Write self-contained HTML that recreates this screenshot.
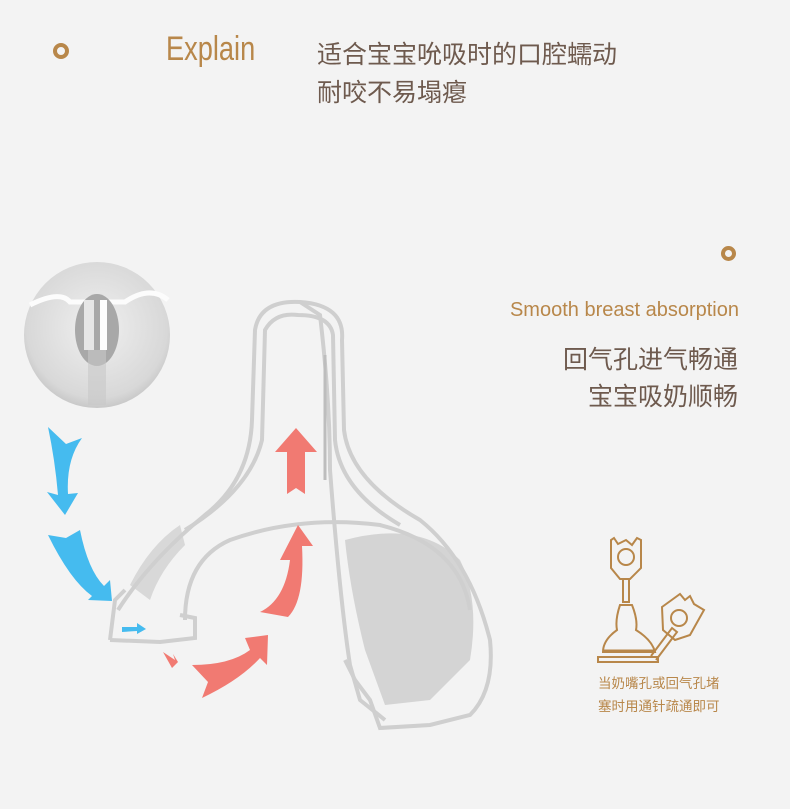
<!DOCTYPE html>
<html><head><meta charset="utf-8"><style>
body{margin:0;width:790px;height:809px;background:#f3f3f3;position:relative;overflow:hidden;font-family:"Liberation Sans","Noto Sans CJK SC",sans-serif}
.t{position:absolute;color:#6e5a4e;white-space:nowrap}
</style></head><body>
<div style="position:absolute;left:53px;top:43px;width:8px;height:8px;border:4px solid #b8874a;border-radius:50%"></div>
<div class="t" style="left:166px;top:30px;font-size:34px;color:#b8874a;font-family:'Liberation Sans Narrow','Liberation Sans',sans-serif;transform:scaleX(.8);transform-origin:left">Explain</div>
<div class="t" style="left:317px;top:36px;font-size:25px;line-height:38px">适合宝宝吮吸时的口腔蠕动<br>耐咬不易塌瘪</div>
<div style="position:absolute;left:721px;top:246px;width:7px;height:7px;border:4px solid #b8874a;border-radius:50%"></div>
<div class="t" style="right:51px;top:299px;font-size:20px;color:#b8874a;font-family:'Liberation Sans Narrow','Liberation Sans',sans-serif">Smooth breast absorption</div>
<div class="t" style="right:52px;top:342px;font-size:25px;line-height:37px;text-align:right">回气孔进气畅通<br>宝宝吸奶顺畅</div>
<div class="t" style="left:598px;top:672px;font-size:13.5px;line-height:23px;color:#b8874a">当奶嘴孔或回气孔堵<br>塞时用通针疏通即可</div>
<svg width="790" height="809" style="position:absolute;left:0;top:0">
<defs><radialGradient id="g" cx=".5" cy=".45" r=".6"><stop offset="0" stop-color="#f0f0f0"/><stop offset=".8" stop-color="#d8d8d8"/><stop offset="1" stop-color="#bdbdbd"/></radialGradient></defs>
<circle cx="97" cy="335" r="73" fill="url(#g)"/>
<path d="M30 305 Q60 290 70 302 L125 302 Q150 285 168 300" stroke="#fcfcfc" stroke-width="5" fill="none"/>
<ellipse cx="97" cy="330" rx="22" ry="36" fill="#a8a8a8"/>
<rect x="84" y="300" width="10" height="50" fill="#e6e6e6"/>
<rect x="100" y="300" width="7" height="50" fill="#fdfdfd"/>
<rect x="88" y="350" width="18" height="55" fill="#c8c8c8" opacity=".6"/>
<path d="M345 540 Q420 520 460 560 Q480 600 470 660 L430 700 L385 705 L365 650 Q350 590 345 540Z" fill="#b0b0b0" opacity=".45"/>
<path d="M130 585 Q150 545 180 525 L185 545 Q160 570 150 600Z" fill="#b0b0b0" opacity=".4"/>
<g fill="none" stroke="#cfcfcf" stroke-width="4">
<path d="M118 610 Q150 560 205 515 Q250 480 252 420 L255 330 Q260 300 300 302 Q345 305 342 340 L344 430 Q350 480 420 520 Q470 560 490 640 Q495 690 470 715 L430 725 L380 728 L370 700 L355 680 L345 660"/>
<path d="M185 530 Q250 490 262 440 L265 330 Q275 312 298 315 Q330 315 333 335 L335 440 Q340 490 400 525"/>
<path d="M110 640 L115 600 L125 590"/>
<path d="M185 620 Q185 560 230 540 Q300 515 380 525 Q460 545 470 610"/>
<path d="M110 640 L160 642 L195 638 L195 618 L180 615"/>
<path d="M300 302 L320 315 Q330 400 330 470 Q340 600 350 665 L360 700 L385 720"/>
</g>
<line x1="325" y1="355" x2="325" y2="480" stroke="#bdbdbd" stroke-width="3"/>
<g fill="#45bbef">
<path d="M48 427 Q55 460 58 495 L47 492 L65 515 L78 493 L68 494 Q66 460 82 438 L66 444Z"/>
<path d="M48 535 Q70 580 92 596 L88 600 L112 601 L110 580 L104 586 Q88 570 80 530 L66 538Z"/>
<path d="M122 627 L137 627 L137 623 L146 629 L137 634 L137 631 L122 632Z"/>
</g>
<g fill="#f17a72">
<path d="M287 494 L287 452 L275 452 L296 428 L317 452 L305 452 L305 494 L296 488Z"/>
<path d="M260 612 Q285 600 290 560 L280 560 L298 525 L313 546 L302 546 Q305 600 288 617Z"/>
<path d="M192 665 Q230 665 250 650 L245 638 L268 635 L267 665 L260 658 Q240 680 202 698 L208 682Z"/>
<path d="M163 652 L175 660 L173 654 L178 662 L172 668Z"/>
</g>
<g fill="none" stroke="#b8874a" stroke-width="2">
<path d="M614 538 L618 544 L626 540 L632 545 L637 538 L641 540 L641 568 L630 579 L620 579 L611 568 L611 540Z"/>
<circle cx="626" cy="557" r="8"/>
<path d="M623 579 L623 602 L629 602 L629 579"/>
<path d="M620 605 Q615 620 617 630 Q603 640 603 652 L655 652 Q652 640 636 630 Q638 620 632 605Z"/>
<path d="M598 657 L658 657 L658 662 L598 662Z"/>
<path d="M651 656 L672 628 L677 632 L656 660"/>
<path d="M662 607 L680 594 L685 600 L690 596 L694 604 L704 610 L690 635 L675 640 L663 630Z"/>
<circle cx="679" cy="618" r="8"/>
</g>
<line x1="603" y1="651" x2="655" y2="651" stroke="#b8874a" stroke-width="3"/>
</svg>
</body></html>
